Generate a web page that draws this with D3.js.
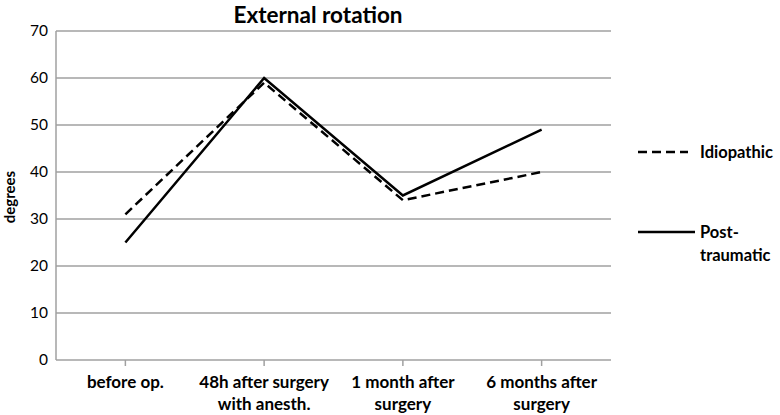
<!DOCTYPE html>
<html><head><meta charset="utf-8">
<script src="https://cdn.jsdelivr.net/npm/d3@7"></script>
<style>body{margin:0;background:#fff}svg{display:block;font-family:Lato,"Open Sans",sans-serif}</style>
</head><body><svg id="c" width="780" height="415"></svg>
<script>
const categories = [["before op."],["48h after surgery","with anesth."],["1 month after","surgery"],["6 months after","surgery"]];
const idiopathic = [31, 59, 34, 40];
const postTraumatic = [25, 60, 35, 49];
const yTicks = [0,10,20,30,40,50,60,70];

const svg = d3.select("#c");
const L=56, R=611, T=31, B=360;
const x = d3.scaleBand().domain(d3.range(categories.length)).range([L,R]);
const y = d3.scaleLinear().domain([0,70]).range([B,T]);
const cx = i => x(i)+x.bandwidth()/2;

svg.append("g").selectAll("line").data(yTicks.filter(d=>d>0)).join("line")
  .attr("x1",L).attr("x2",R).attr("y1",d=>y(d)).attr("y2",d=>y(d))
  .attr("stroke","#a0a0a0").attr("stroke-width",1.5);
svg.append("line").attr("x1",L).attr("x2",L).attr("y1",T).attr("y2",B).attr("stroke","#a0a0a0").attr("stroke-width",1.5);
svg.append("line").attr("x1",L).attr("x2",R).attr("y1",B).attr("y2",B).attr("stroke","#a0a0a0").attr("stroke-width",1.5);
svg.append("g").selectAll("line").data(d3.range(categories.length)).join("line")
  .attr("x1",cx).attr("x2",cx).attr("y1",B).attr("y2",B+6).attr("stroke","#a0a0a0").attr("stroke-width",1.5);

svg.append("g").selectAll("text").data(yTicks).join("text")
  .attr("x",48).attr("y",d=>y(d)).attr("dy","0.35em").attr("text-anchor","end")
  .attr("font-size",15.5).attr("fill","#000").text(d=>d);

const xl = svg.append("g").selectAll("text").data(categories).join("text")
  .attr("text-anchor","middle").attr("font-size",17).attr("font-weight","bold");
xl.each(function(lines,i){
  d3.select(this).selectAll("tspan").data(lines).join("tspan")
    .attr("x",cx(i)).attr("y",(d,j)=>388+j*22).text(d=>d);
});

svg.append("text").attr("x",318).attr("y",23).attr("text-anchor","middle")
  .attr("font-size",22.5).attr("font-weight","bold").text("External rotation");
svg.append("text").attr("transform","translate(15,197) rotate(-90)").attr("text-anchor","middle")
  .attr("font-size",15).attr("font-weight","bold").text("degrees");

const line = d3.line().x((d,i)=>cx(i)).y(d=>y(d));
svg.append("path").datum(idiopathic).attr("d",line).attr("fill","none")
  .attr("stroke","#000").attr("stroke-width",2.5).attr("stroke-dasharray","9,5");
svg.append("path").datum(postTraumatic).attr("d",line).attr("fill","none")
  .attr("stroke","#000").attr("stroke-width",2.5);

svg.append("line").attr("x1",638).attr("x2",688).attr("y1",152).attr("y2",152)
  .attr("stroke","#000").attr("stroke-width",2.5).attr("stroke-dasharray","9,5");
svg.append("text").attr("x",700).attr("y",152).attr("dy","0.35em").attr("font-size",16.5).attr("font-weight","bold").text("Idiopathic");
svg.append("line").attr("x1",638).attr("x2",695).attr("y1",232).attr("y2",232)
  .attr("stroke","#000").attr("stroke-width",2.5);
svg.append("text").attr("x",700).attr("y",232).attr("dy","0.35em").attr("font-size",16.5).attr("font-weight","bold").text("Post-");
svg.append("text").attr("x",700).attr("y",255).attr("dy","0.35em").attr("font-size",16.5).attr("font-weight","bold").text("traumatic");
</script></body></html>
